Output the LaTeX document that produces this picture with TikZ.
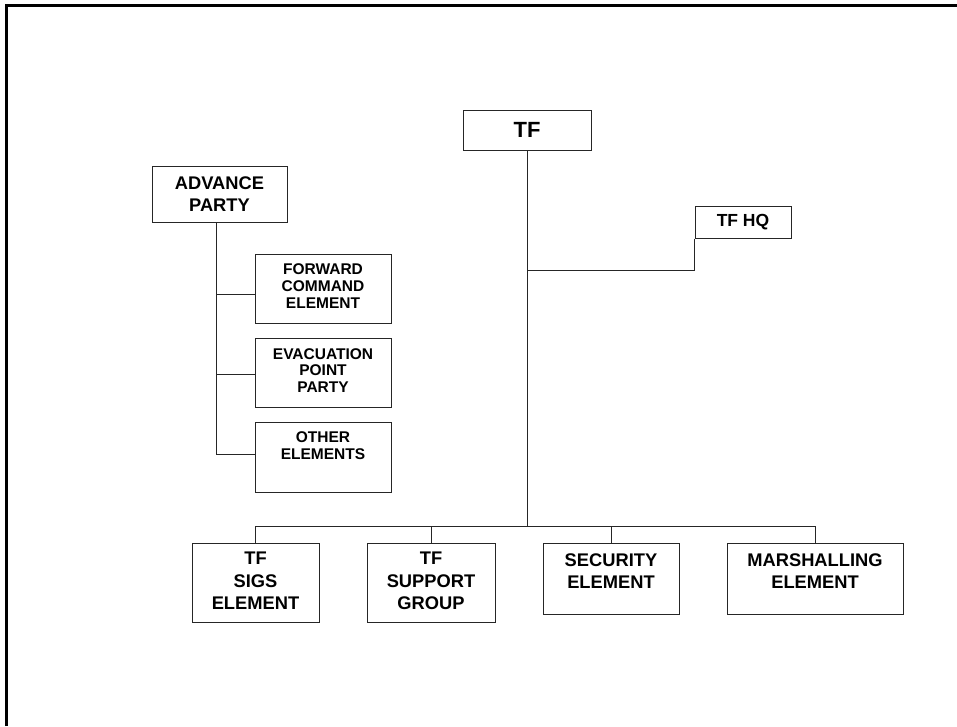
\documentclass[tikz,border=0pt]{standalone}
\usepackage{fontspec}
\setmainfont{Liberation Sans}
\usetikzlibrary{calc}
\begin{document}
\begin{tikzpicture}[x=1pt,y=-1pt,
  frame/.style={draw=black, line width=2.2pt},
  box/.style={draw=black!85, line width=1pt, inner sep=0pt, fill=white},
  link/.style={draw=black!85, line width=1pt},
  txtbig/.style={anchor=north, inner sep=0pt, align=center,
    font=\bfseries\fontsize{18.3}{22.4}\selectfont},
  txtsmall/.style={anchor=north, inner sep=0pt, align=center,
    font=\bfseries\fontsize{15.5}{16.7}\selectfont}]
\useasboundingbox (0,0) rectangle (957,726);

% page frame
\draw[frame] (6.5,726) -- (6.5,5.5) -- (957,5.5);

% top of the tree
\node[box, minimum width=128pt, minimum height=40pt,
      font=\bfseries\fontsize{22}{24}\selectfont] (tf) at (527,130) {TF};
\node[box, minimum width=96pt, minimum height=32pt,
      font=\bfseries\fontsize{17.5}{19}\selectfont] (hq) at (743,222) {TF HQ};

% advance party and its elements
\node[box, minimum width=135pt, minimum height=56pt] (adv) at (219.5,194) {};
\node[txtbig] (advt) at ($(adv.north)+(0,10.7)$) {ADVANCE\\PARTY};

\node[box, minimum width=136pt, minimum height=69pt] (fwd) at (323,288.5) {};
\node[txtsmall] (fwdt) at ($(fwd.north)+(0,10.3)$) {FORWARD\\COMMAND\\ELEMENT};

\node[box, minimum width=136pt, minimum height=69pt] (evac) at (323,372.5) {};
\node[txtsmall] (evact) at ($(evac.north)+(0,10.7)$) {EVACUATION\\POINT\\PARTY};

\node[box, minimum width=136pt, minimum height=70pt] (other) at (323,457) {};
\node[txtsmall] (othert) at ($(other.north)+(0,10)$) {OTHER\\ELEMENTS};

% subordinate elements
\node[box, minimum width=127pt, minimum height=79pt] (sigs) at (255.5,582.5) {};
\node[txtbig] (sigst) at ($(sigs.north)+(0,9.5)$) {TF\\SIGS\\ELEMENT};

\node[box, minimum width=128pt, minimum height=79pt] (sup) at (431,582.5) {};
\node[txtbig] (supt) at ($(sup.north)+(0,9.5)$) {TF\\SUPPORT\\GROUP};

\node[box, minimum width=136pt, minimum height=71pt] (sec) at (611,578.5) {};
\node[txtbig] (sect) at ($(sec.north)+(0,10.6)$) {SECURITY\\ELEMENT};

\node[box, minimum width=176pt, minimum height=71pt] (mar) at (815,578.5) {};
\node[txtbig] (mart) at ($(mar.north)+(0,10.6)$) {MARSHALLING\\ELEMENT};

% junction points
\coordinate (hqj) at (527,270);
\coordinate (busL) at (255,526);
\coordinate (busR) at (815,526);
\coordinate (b1) at (216,294);
\coordinate (b2) at (216,374);
\coordinate (b3) at (216,454);

% connectors
\draw[link] (tf.south) -- (tf.south |- busL);
\draw[link] (hq.south west) |- (hqj);
\draw[link] (busL) -- (busR);
\draw[link] (sigs.north) -- (sigs.north |- busL);
\draw[link] (sup.north) -- (sup.north |- busL);
\draw[link] (sec.north) -- (sec.north |- busL);
\draw[link] (mar.north) -- (mar.north |- busL);

\draw[link] (adv.south -| b1) -- (b3);
\draw[link] (b1) -- (b1 -| fwd.west);
\draw[link] (b2) -- (b2 -| evac.west);
\draw[link] (b3) -- (b3 -| other.west);
\end{tikzpicture}
\end{document}
